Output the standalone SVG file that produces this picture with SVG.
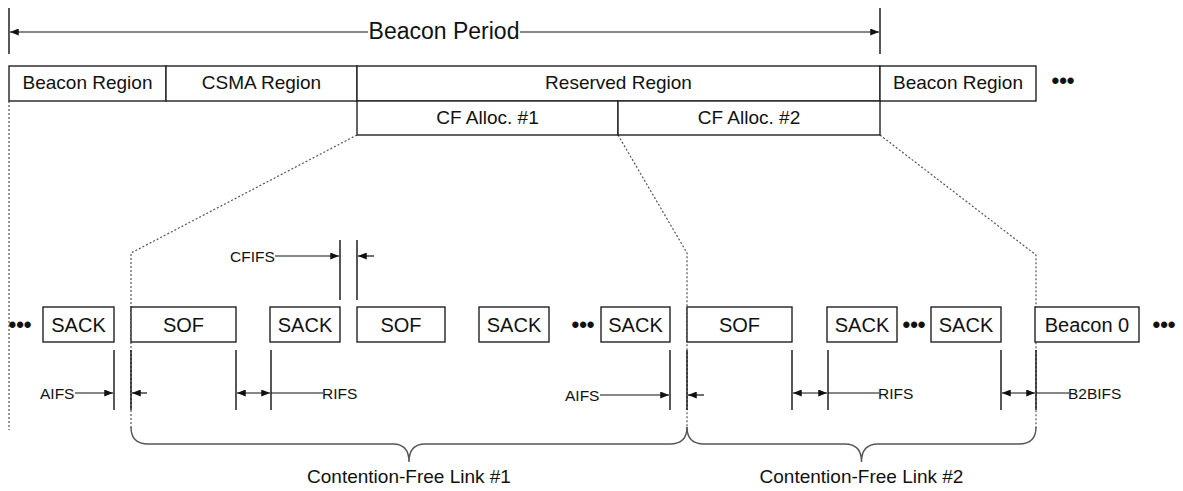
<svg xmlns="http://www.w3.org/2000/svg" width="1183" height="491" viewBox="0 0 1183 491">
<defs>
<marker id="ah" viewBox="0 0 10 8" refX="10" refY="4" markerWidth="9" markerHeight="7" markerUnits="userSpaceOnUse" orient="auto-start-reverse">
<path d="M0,0 L10,4 L0,8 z" fill="#111"/>
</marker>
<style>
text{font-family:"Liberation Sans",Arial,sans-serif;fill:#111}
.box{fill:#fff;stroke:#222;stroke-width:1.4}
.lbl{font-size:19px;text-anchor:middle}
.frm{font-size:20px;text-anchor:middle}
.ifs{font-size:15.5px}
.ln{stroke:#111;stroke-width:1.2;fill:none}
.tick{stroke:#111;stroke-width:1.4}
.dot{stroke:#555;stroke-width:1.2;stroke-dasharray:2,2;fill:none}
.brace{stroke:#555;stroke-width:1.4;fill:none}
.ell{font-size:22px;font-weight:bold;text-anchor:middle}
</style>
</defs>
<rect width="1183" height="491" fill="#fff"/>

<g id="beacon-period">
<line class="tick" x1="9" y1="8" x2="9" y2="54"/>
<line class="tick" x1="880" y1="8" x2="880" y2="54"/>
<line class="ln" x1="10" y1="32" x2="368" y2="32" marker-start="url(#ah)"/>
<line class="ln" x1="520" y1="32" x2="879" y2="32" marker-end="url(#ah)"/>
<text x="444" y="39" style="font-size:23px;text-anchor:middle">Beacon Period</text>
</g>

<g id="connectors">
<path class="dot" d="M9,101 L9,430"/>
<path class="dot" d="M357,135 L131,253 L131,430"/>
<path class="dot" d="M618,135 L687,253 L687,430"/>
<path class="dot" d="M880,135 L1036,255 L1036,430"/>
</g>

<g id="beacon-region-1"><rect class="box" x="9" y="66" width="157" height="35"/><text class="lbl" x="87.5" y="89">Beacon Region</text></g>
<g id="csma-region"><rect class="box" x="166" y="66" width="191" height="35"/><text class="lbl" x="261.5" y="89">CSMA Region</text></g>
<g id="reserved-region"><rect class="box" x="357" y="66" width="523" height="35"/><text class="lbl" x="618.5" y="89">Reserved Region</text></g>
<g id="beacon-region-2"><rect class="box" x="880" y="66" width="156" height="35"/><text class="lbl" x="958" y="89">Beacon Region</text></g>
<g id="ellipsis-top"><text class="ell" x="1063" y="88">•••</text></g>
<g id="cf-alloc-1"><rect class="box" x="357" y="101" width="261" height="34"/><text class="lbl" x="487.5" y="124">CF Alloc. #1</text></g>
<g id="cf-alloc-2"><rect class="box" x="618" y="101" width="262" height="34"/><text class="lbl" x="749" y="124">CF Alloc. #2</text></g>

<g id="ellipsis-1"><text class="ell" x="20" y="332">•••</text></g>
<g id="sack-1"><rect class="box" x="43" y="307" width="71" height="35"/><text class="frm" x="78.5" y="331.5">SACK</text></g>
<g id="sof-1"><rect class="box" x="131" y="307" width="105" height="35"/><text class="frm" x="183.5" y="331.5">SOF</text></g>
<g id="sack-2"><rect class="box" x="270" y="307" width="70" height="35"/><text class="frm" x="305" y="331.5">SACK</text></g>
<g id="sof-2"><rect class="box" x="357" y="307" width="88" height="35"/><text class="frm" x="401" y="331.5">SOF</text></g>
<g id="sack-3"><rect class="box" x="479" y="307" width="70" height="35"/><text class="frm" x="514" y="331.5">SACK</text></g>
<g id="ellipsis-2"><text class="ell" x="583" y="332">•••</text></g>
<g id="sack-4"><rect class="box" x="601" y="307" width="69" height="35"/><text class="frm" x="635.5" y="331.5">SACK</text></g>
<g id="sof-3"><rect class="box" x="687" y="307" width="105" height="35"/><text class="frm" x="739.5" y="331.5">SOF</text></g>
<g id="sack-5"><rect class="box" x="827" y="307" width="70" height="35"/><text class="frm" x="862" y="331.5">SACK</text></g>
<g id="ellipsis-3"><text class="ell" x="914" y="332">•••</text></g>
<g id="sack-6"><rect class="box" x="931" y="307" width="70" height="35"/><text class="frm" x="966" y="331.5">SACK</text></g>
<g id="beacon-0"><rect class="box" x="1035" y="307" width="104" height="35"/><text class="frm" x="1087" y="331.5">Beacon 0</text></g>
<g id="ellipsis-4"><text class="ell" x="1164" y="332">•••</text></g>

<g id="cfifs">
<line class="tick" x1="340" y1="240" x2="340" y2="300"/>
<line class="tick" x1="357" y1="240" x2="357" y2="300"/>
<line class="ln" x1="275" y1="256" x2="339" y2="256" marker-end="url(#ah)"/>
<line class="ln" x1="374" y1="256" x2="358" y2="256" marker-end="url(#ah)"/>
<text class="ifs" x="230" y="262">CFIFS</text>
</g>

<g id="ifs-markers">
<line class="tick" x1="114" y1="350" x2="114" y2="410"/>
<line class="tick" x1="131" y1="350" x2="131" y2="410"/>
<line class="tick" x1="236" y1="350" x2="236" y2="410"/>
<line class="tick" x1="271" y1="350" x2="271" y2="410"/>
<line class="tick" x1="670" y1="350" x2="670" y2="410"/>
<line class="tick" x1="687" y1="350" x2="687" y2="410"/>
<line class="tick" x1="792" y1="350" x2="792" y2="410"/>
<line class="tick" x1="828" y1="350" x2="828" y2="410"/>
<line class="tick" x1="1001" y1="350" x2="1001" y2="410"/>
<line class="tick" x1="1036" y1="350" x2="1036" y2="410"/>

<line class="ln" x1="75" y1="393" x2="113" y2="393" marker-end="url(#ah)"/>
<line class="ln" x1="147" y1="393" x2="132" y2="393" marker-end="url(#ah)"/>
<text class="ifs" x="40" y="399">AIFS</text>

<line class="ln" x1="237" y1="393" x2="270" y2="393" marker-start="url(#ah)" marker-end="url(#ah)"/>
<line class="ln" x1="271" y1="393" x2="323" y2="393"/>
<text class="ifs" x="322" y="399">RIFS</text>

<line class="ln" x1="600" y1="395" x2="669" y2="395" marker-end="url(#ah)"/>
<line class="ln" x1="704" y1="395" x2="688" y2="395" marker-end="url(#ah)"/>
<text class="ifs" x="565" y="401">AIFS</text>

<line class="ln" x1="793" y1="393" x2="827" y2="393" marker-start="url(#ah)" marker-end="url(#ah)"/>
<line class="ln" x1="828" y1="393" x2="879" y2="393"/>
<text class="ifs" x="878" y="399">RIFS</text>

<line class="ln" x1="1002" y1="393" x2="1035" y2="393" marker-start="url(#ah)" marker-end="url(#ah)"/>
<line class="ln" x1="1036" y1="393" x2="1069" y2="393"/>
<text class="ifs" x="1068" y="399">B2BIFS</text>
</g>

<g id="link-1">
<path class="brace" d="M131,427 Q131,444 148,444 L393,444 Q409,444 409,462 Q409,444 425,444 L670,444 Q687,444 687,427"/>
<text x="409" y="483" style="font-size:19px;text-anchor:middle">Contention-Free Link #1</text>
</g>
<g id="link-2">
<path class="brace" d="M687,427 Q687,444 704,444 L845,444 Q861.5,444 861.5,462 Q861.5,444 878,444 L1019,444 Q1036,444 1036,427"/>
<text x="861.5" y="483" style="font-size:19px;text-anchor:middle">Contention-Free Link #2</text>
</g>
</svg>
